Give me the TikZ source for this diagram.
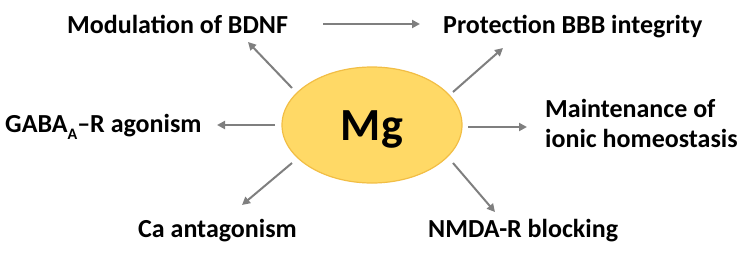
\documentclass[tikz,border=0pt]{standalone}
\usepackage{fontspec}
\setmainfont{Carlito}
\usetikzlibrary{arrows.meta,shapes.geometric}
\definecolor{mgfill}{HTML}{FFD966}
\definecolor{mgdraw}{HTML}{F2BE45}
\definecolor{arrgray}{HTML}{7F7F7F}
\newcommand{\lowsub}[1]{\raisebox{-0.3em}{\fontsize{16}{18}\selectfont #1}}
\begin{document}
\begin{tikzpicture}[x=1pt,y=-1pt,
  lbl/.style={font=\bfseries\fontsize{26}{30}\selectfont, inner sep=0pt, anchor=base west},
  arr/.style={draw=arrgray, line width=2pt, -{Triangle[length=8pt,width=8pt]}}]
\useasboundingbox (0,0) rectangle (747,258);
\node[ellipse, fill=mgfill, draw=mgdraw, line width=1.2pt, minimum width=180, minimum height=116, inner sep=0pt] (mg) at (372,125) {};
\node[font=\bfseries\fontsize{46}{50}\selectfont, inner sep=0pt, anchor=base] (mgt) at (372,140) {Mg};
\node[lbl] (bdnf) at (67,33) {Modulation of BDNF};
\node[lbl] (bbb) at (443,33) {Protection BBB integrity};
\node[lbl] (gaba) at (5,132) {GABA\lowsub{A}–R agonism};
\node[lbl] (maint1) at (545,117) {Maintenance of};
\node[lbl] (maint2) at (545,147) {ionic homeostasis};
\node[lbl] (ca) at (138,237) {Ca antagonism};
\node[lbl] (nmda) at (428,237) {NMDA-R blocking};
\coordinate (t1) at (292,88);  \coordinate (h1) at (248,42);
\coordinate (t2) at (453,92);  \coordinate (h2) at (503,48);
\coordinate (t3) at (292,163); \coordinate (h3) at (242,205);
\coordinate (t4) at (453,163); \coordinate (h4) at (495,212);
\coordinate (t5) at (468,127); \coordinate (h5) at (527,127);
\coordinate (t6) at (275,125); \coordinate (h6) at (217,125);
\coordinate (t7) at (323,24);  \coordinate (h7) at (420,24);
\foreach \i in {1,...,7} {\draw[arr] (t\i) -- (h\i);}
\end{tikzpicture}
\end{document}
